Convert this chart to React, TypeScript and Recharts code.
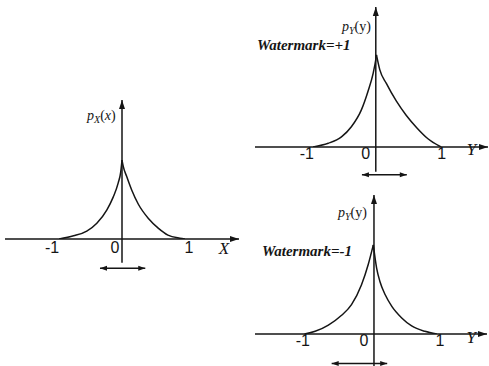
import { Line, LineChart, ReferenceLine, XAxis, YAxis } from "recharts";

// left panel: p_X(x), host signal
const hostLeftX = [-1, -0.77, -0.56, -0.4, -0.24, -0.14, -0.06, -0.02, 0];
const hostLeftP = [0, 0.04, 0.1, 0.2, 0.37, 0.53, 0.71, 0.85, 1.0];
const hostRightX = [0, 0.02, 0.075, 0.154, 0.26, 0.42, 0.58, 0.73, 0.92, 1.0];
const hostRightP = [1.0, 0.92, 0.79, 0.62, 0.44, 0.26, 0.135, 0.05, 0.01, 0];

// top right: p_Y(y), watermark = +1
const plusLeftX = [-0.95, -0.72, -0.52, -0.37, -0.22, -0.12, -0.04, 0, 0.01];
const plusLeftP = [0, 0.04, 0.11, 0.22, 0.4, 0.6, 0.8, 0.95, 1.0];
const plusRightX = [0.01, 0.06, 0.16, 0.31, 0.46, 0.62, 0.79, 0.99];
const plusRightP = [1.0, 0.84, 0.69, 0.5, 0.345, 0.21, 0.09, 0];

// bottom right: p_Y(y), watermark = -1
const minusLeftX = [-1.05, -0.89, -0.69, -0.49, -0.34, -0.19, -0.087, -0.01];
const minusLeftP = [0, 0.03, 0.1, 0.21, 0.33, 0.55, 0.78, 1.0];
const minusRightX = [-0.01, 0.04, 0.09, 0.17, 0.27, 0.42, 0.57, 0.77, 0.95];
const minusRightP = [1.0, 0.74, 0.59, 0.44, 0.31, 0.18, 0.09, 0.03, 0];

const tickValues = [-1, 0, 1];

// double-headed shift arrows under each panel: [from, to, level]
const hostShift = [-0.35, 0.37, -0.37];
const plusShift = [-0.21, 0.47, -0.3];
const minusShift = [-0.64, 0.2, -0.33];

const toPoints = (xs: number[], ps: number[]) => xs.map((x, i) => ({ x, p: ps[i] }));

const INK = "#151515";
const SERIF = "'Liberation Serif', 'Times New Roman', serif";
const SANS = "'Liberation Sans', Arial, sans-serif";

type Panel = {
  left: number;
  top: number;
  width: number;
  height: number;
  xDomain: [number, number];
  yDomain: [number, number];
  yBelow: number;
  leftBranch: { x: number; p: number }[];
  rightBranch: { x: number; p: number }[];
  shift: number[];
  axisName: string;
  nameAt: number;
  nameDy: number;
  tickDx: number[];
  tickDy: number;
};

const panels: Panel[] = [
  {
    left: 5, top: 100, width: 234, height: 139,
    xDomain: [-1.86, 1.86], yDomain: [0, 1.76], yBelow: -0.3,
    leftBranch: toPoints(hostLeftX, hostLeftP),
    rightBranch: toPoints(hostRightX, hostRightP),
    shift: hostShift,
    axisName: "X", nameAt: 1.62, nameDy: 3,
    tickDx: [-7, -7, 4], tickDy: 3,
  },
  {
    left: 255, top: 7, width: 233, height: 140,
    xDomain: [-1.83, 1.7], yDomain: [0, 1.52], yBelow: -0.27,
    leftBranch: toPoints(plusLeftX, plusLeftP),
    rightBranch: toPoints(plusRightX, plusRightP),
    shift: plusShift,
    axisName: "Y", nameAt: 1.45, nameDy: -4,
    tickDx: [-3, -10, 0], tickDy: 1,
  },
  {
    left: 255, top: 195, width: 232, height: 139,
    xDomain: [-1.8, 1.71], yDomain: [0, 1.56], yBelow: -0.4,
    leftBranch: toPoints(minusLeftX, minusLeftP),
    rightBranch: toPoints(minusRightX, minusRightP),
    shift: minusShift,
    axisName: "Y", nameAt: 1.47, nameDy: -3,
    tickDx: [-5, -10, 0], tickDy: 1,
  },
];

const head = (tx: number, ty: number, fx: number, fy: number, len: number, half: number) => {
  const d = Math.hypot(tx - fx, ty - fy) || 1;
  const ux = (tx - fx) / d;
  const uy = (ty - fy) / d;
  const bx = tx - ux * len;
  const by = ty - uy * len;
  return `${tx},${ty} ${bx - uy * half},${by + ux * half} ${bx + uy * half},${by - ux * half}`;
};

const arrow = (both: boolean, len: number, half: number) => (props: any) => {
  const { x1, y1, x2, y2 } = props;
  return (
    <g>
      <line x1={x1} y1={y1} x2={x2} y2={y2} stroke={INK} strokeWidth={1.5} />
      <polygon points={head(x2, y2, x1, y1, len, half)} fill={INK} />
      {both && <polygon points={head(x1, y1, x2, y2, len, half)} fill={INK} />}
    </g>
  );
};

const makeTick = (panel: Panel) => (props: any) => {
  const { x, y, payload } = props;
  const v = payload.value;
  if (v === panel.nameAt) {
    return (
      <text x={x} y={y + panel.nameDy} dy="0.7em" textAnchor="middle" fontFamily={SERIF}
        fontStyle="italic" fontSize={17} fill={INK}>
        {panel.axisName}
      </text>
    );
  }
  const i = tickValues.indexOf(v);
  return (
    <text x={x + panel.tickDx[i]} y={y + panel.tickDy} dy="0.71em" textAnchor="middle"
      fontFamily={SANS} fontSize={16} fill={INK}>
      {String(v)}
    </text>
  );
};

const M = { top: 8, right: 1, bottom: 12, left: 4 };
const AXIS_H = 30;

const PanelChart = ({ panel }: { panel: Panel }) => {
  const [x0, x1] = panel.xDomain;
  const [, yTop] = panel.yDomain;
  const [s0, s1, sy] = panel.shift;
  return (
    <div style={{ position: "absolute", left: panel.left - M.left, top: panel.top - M.top }}>
      <LineChart
        width={panel.width + M.left + M.right}
        height={panel.height + M.top + M.bottom + AXIS_H}
        margin={M}
      >
        <XAxis
          type="number"
          dataKey="x"
          domain={panel.xDomain}
          allowDataOverflow
          ticks={[...tickValues, panel.nameAt]}
          interval={0}
          axisLine={false}
          tickLine={false}
          tickSize={0}
          tickMargin={0}
          height={AXIS_H}
          tick={makeTick(panel)}
        />
        <YAxis type="number" domain={panel.yDomain} allowDataOverflow hide />
        <ReferenceLine
          segment={[{ x: x0, y: 0 }, { x: x1, y: 0 }]}
          ifOverflow="visible"
          shape={arrow(false, 9, 3)}
        />
        <ReferenceLine
          segment={[{ x: 0, y: panel.yBelow }, { x: 0, y: yTop }]}
          ifOverflow="visible"
          shape={arrow(false, 9, 3)}
        />
        <ReferenceLine
          segment={[{ x: s0, y: sy }, { x: s1, y: sy }]}
          ifOverflow="visible"
          shape={arrow(true, 7, 2.5)}
        />
        <Line data={panel.leftBranch} dataKey="p" type="monotone" stroke={INK} strokeWidth={1.5}
          dot={false} isAnimationActive={false} />
        <Line data={panel.rightBranch} dataKey="p" type="monotone" stroke={INK} strokeWidth={1.5}
          dot={false} isAnimationActive={false} />
      </LineChart>
    </div>
  );
};

const textBase: React.CSSProperties = {
  position: "absolute",
  fontFamily: SERIF,
  fontSize: 14,
  lineHeight: "14px",
  color: INK,
  whiteSpace: "nowrap",
};

const Sub = ({ children }: { children: React.ReactNode }) => (
  <span style={{ fontSize: "0.72em", fontStyle: "italic", position: "relative", top: "0.3em" }}>
    {children}
  </span>
);

export default function App() {
  return (
    <div style={{ position: "absolute", left: 0, top: 0, width: 489, height: 366, overflow: "hidden", background: "#fff" }}>
      {panels.map((p, i) => (
        <PanelChart key={i} panel={p} />
      ))}
      <div style={{ ...textBase, left: 87, top: 109 }}>
        <i>p</i><Sub>X</Sub>(<i>x</i>)
      </div>
      <div style={{ ...textBase, left: 342, top: 20 }}>
        <i>p</i><Sub>Y</Sub>(y)
      </div>
      <div style={{ ...textBase, left: 338, top: 206 }}>
        <i>p</i><Sub>Y</Sub>(y)
      </div>
      <div style={{ ...textBase, left: 257, top: 38, fontSize: 15, lineHeight: "15px", fontWeight: "bold", fontStyle: "italic" }}>
        Watermark=+1
      </div>
      <div style={{ ...textBase, left: 262, top: 244, fontSize: 15, lineHeight: "15px", fontWeight: "bold", fontStyle: "italic" }}>
        Watermark=-1
      </div>
    </div>
  );
}
